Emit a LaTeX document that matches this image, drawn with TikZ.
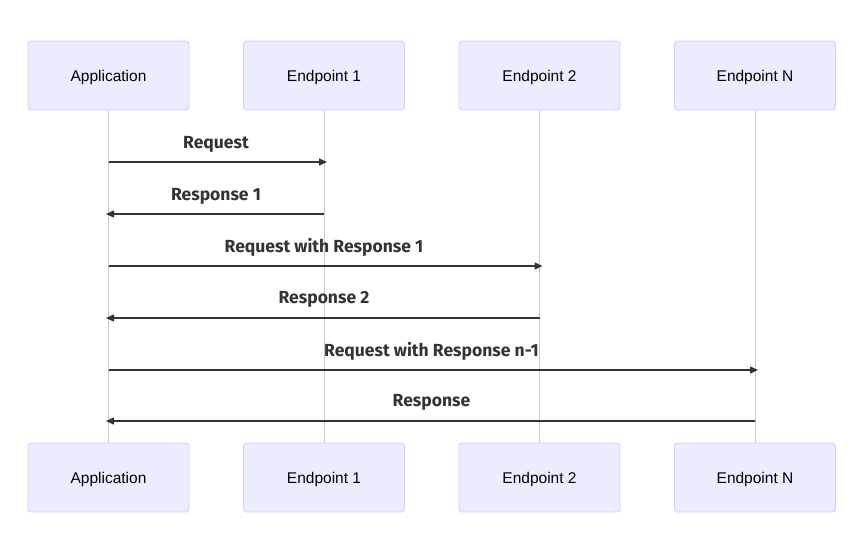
\documentclass[tikz,border=0pt]{standalone}
\usepackage{fontspec}
\setmainfont{Liberation Sans}
\newfontfamily\msgfont{Fira Sans}
\usetikzlibrary{arrows.meta}
\definecolor{actfill}{HTML}{ECECFF}
\definecolor{actdraw}{HTML}{CCCCFF}
\definecolor{lifeline}{HTML}{C8C8C8}
\definecolor{msgcol}{HTML}{333333}
\begin{document}
\begin{tikzpicture}[x=1pt,y=-1pt,
  actor/.style={draw=actdraw,fill=actfill,rounded corners=3pt,minimum width=161pt,minimum height=69pt,inner sep=0pt,font=\fontsize{15.5}{18}\selectfont,text=black,line width=0.8pt,text height=12.5pt,text depth=0pt},
  life/.style={draw=lifeline,line width=0.8pt},
  msg/.style={draw=msgcol,line width=1.4pt,-{Triangle[length=8pt,width=7pt]}},
  lbl/.style={font=\msgfont\bfseries\fontsize{17.5}{20}\selectfont,text=msgcol,inner sep=0pt}]
\useasboundingbox (0,0) rectangle (866,550);
\fill[white] (0,0) rectangle (866,550);
% lifelines first
\foreach \n/\x in {a/108.5,b/324,c/539.5,d/755}{
  \coordinate (\n top) at (\x,110);
  \coordinate (\n bot) at (\x,443);
  \draw[life] (\n top) -- (\n bot);
}
\node[actor] (A1) at (108.5,75.5) {Application};
\node[actor] (B1) at (324,75.5) {Endpoint 1};
\node[actor] (C1) at (539.5,75.5) {Endpoint 2};
\node[actor] (D1) at (755,75.5) {Endpoint N};
\node[actor] (A2) at (108.5,477.5) {Application};
\node[actor] (B2) at (324,477.5) {Endpoint 1};
\node[actor] (C2) at (539.5,477.5) {Endpoint 2};
\node[actor] (D2) at (755,477.5) {Endpoint N};
% messages
\foreach \n/\x in {a/108.5,b/327,c/542.5,d/758}{
  \foreach \k/\y in {1/162,3/266,5/370}{
    \coordinate (\n\k) at (\x,\y);
  }
}
\foreach \n/\x in {a/106,b/324,c/539.5,d/755}{
  \foreach \k/\y in {2/214,4/318,6/421}{
    \coordinate (\n\k) at (\x,\y);
  }
}
\draw[msg] (a1) -- (b1);
\draw[msg] (b2) -- (a2);
\draw[msg] (a3) -- (c3);
\draw[msg] (c4) -- (a4);
\draw[msg] (a5) -- (d5);
\draw[msg] (d6) -- (a6);
\node[lbl] (L1) at (216,144.5) {Request};
\node[lbl] (L2) at (216,196.5) {Response 1};
\node[lbl] (L3) at (324,247.5) {Request with Response 1};
\node[lbl] (L4) at (324,299.5) {Response 2};
\node[lbl] (L5) at (431.5,351.5) {Request with Response n-1};
\node[lbl] (L6) at (431.5,402.5) {Response};
\end{tikzpicture}
\end{document}
